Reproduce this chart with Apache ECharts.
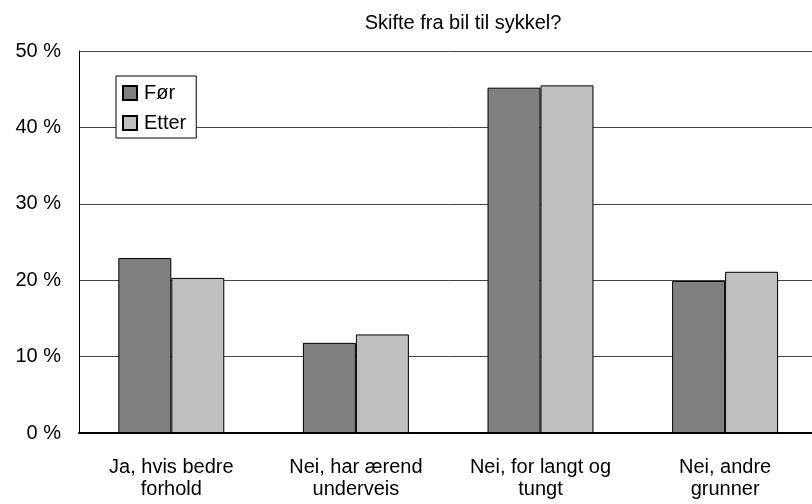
<!DOCTYPE html>
<html>
<head>
<meta charset="utf-8">
<script src="https://cdn.jsdelivr.net/npm/echarts@6/dist/echarts.min.js"></script>
<style>
html,body{margin:0;padding:0;background:#fff;overflow:hidden;width:812px;height:504px;}
#chart{width:820px;height:504px;}
</style>
</head>
<body>
<div id="chart"></div>
<script>
const titleText = 'Skifte fra bil til sykkel?';
const categories = ['Ja, hvis bedre\nforhold', 'Nei, har ærend\nunderveis', 'Nei, for langt og\ntungt', 'Nei, andre\ngrunner'];
const seriesNames = ['Før', 'Etter'];
const forValues = [22.9, 11.8, 45.2, 19.9];
const etterValues = [20.3, 12.9, 45.5, 21.1];
const yTicks = { min: 0, max: 50, interval: 10 };

const FONT = "'Liberation Sans', Arial, sans-serif";
const FS = 20;
const chart = echarts.init(document.getElementById('chart'), null, { renderer: 'canvas' });
chart.setOption({
  animation: false,
  backgroundColor: '#ffffff',
  textStyle: { fontFamily: FONT, color: '#000' },
  title: {
    text: titleText,
    left: 458,
    top: 8,
    textAlign: 'center',
    textStyle: { fontFamily: FONT, fontSize: FS, fontWeight: 'normal', color: '#000' }
  },
  legend: {
    orient: 'vertical',
    left: 116,
    top: 76,
    icon: 'rect',
    itemWidth: 14,
    itemHeight: 14,
    itemGap: 10,
    padding: [7, 10, 5, 6],
    backgroundColor: '#fff',
    borderColor: '#000',
    borderWidth: 1,
    textStyle: { fontFamily: FONT, fontSize: FS, color: '#000', padding: [0, 0, 0, 2] },
    data: seriesNames
  },
  grid: { left: 79, right: 2.6, top: 51, bottom: 71 },
  xAxis: {
    type: 'category',
    data: categories,
    axisTick: { show: false },
    axisLine: { lineStyle: { color: '#000', width: 2 } },
    axisLabel: { fontFamily: FONT, fontSize: FS, color: '#000', margin: 23, lineHeight: 22, interval: 0 }
  },
  yAxis: {
    type: 'value',
    min: yTicks.min,
    max: yTicks.max,
    interval: yTicks.interval,
    axisLine: { show: true, lineStyle: { color: '#000', width: 1 } },
    axisTick: { show: false },
    axisLabel: { fontFamily: FONT, fontSize: FS, color: '#000', margin: 18, formatter: '{value} %' },
    splitLine: { lineStyle: { color: '#444', width: 1 } }
  },
  series: [
    {
      name: seriesNames[0],
      type: 'bar',
      data: forValues,
      barGap: '0%',
      barCategoryGap: '42.6%',
      itemStyle: { color: '#808080', borderColor: '#000', borderWidth: 1 }
    },
    {
      name: seriesNames[1],
      type: 'bar',
      data: etterValues,
      barGap: '0%',
      barCategoryGap: '42.6%',
      itemStyle: { color: '#c0c0c0', borderColor: '#000', borderWidth: 1 }
    }
  ]
});
</script>
</body>
</html>
